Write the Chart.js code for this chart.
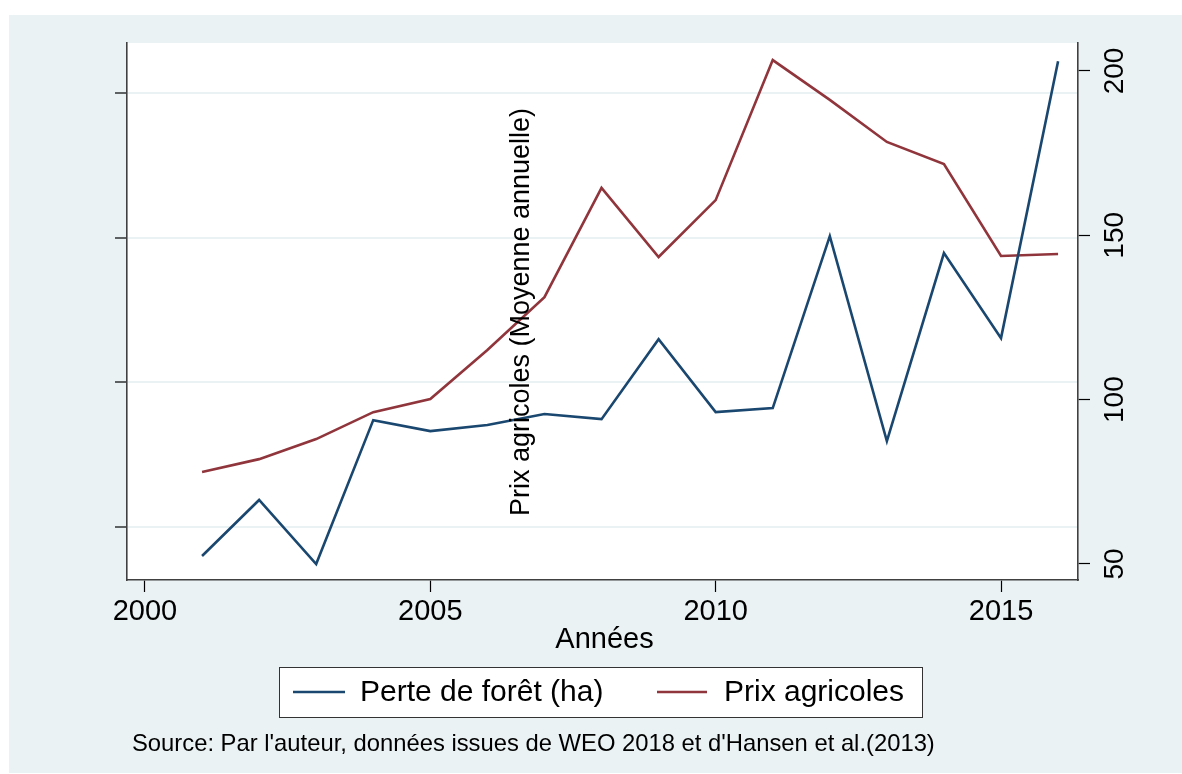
<!DOCTYPE html>
<html>
<head>
<meta charset="utf-8">
<script src="https://cdn.jsdelivr.net/npm/chart.js@4.4.0/dist/chart.umd.min.js"></script>
<style>
  body { margin: 0; background: #fff; }
  canvas { display: block; }
</style>
</head>
<body>
<canvas id="chart" width="1182" height="774"></canvas>
<script>
// donnees
const years = [2001, 2002, 2003, 2004, 2005, 2006, 2007, 2008, 2009, 2010, 2011, 2012, 2013, 2014, 2015, 2016];
// perte de foret (axe gauche, sans etiquettes)
const perteForet = [80.0, 118.7, 74.4, 173.9, 166.3, 170.5, 178.1, 174.6, 229.9, 179.5, 182.2, 301.1, 159.4, 289.4, 230.6, 422.0];
// prix agricoles, moyenne annuelle (axe droit)
const prixAgricoles = [78.0, 81.9, 88.0, 96.2, 100.2, 115.1, 131.2, 164.4, 143.4, 160.7, 203.3, 191.2, 178.4, 171.7, 143.7, 144.3];

const xTicks = [2000, 2005, 2010, 2015];
const leftTicks = [100, 200, 300, 400];
const rightTicks = [50, 100, 150, 200];

const seriesLabels = ['Perte de forêt (ha)', 'Prix agricoles'];
const seriesColors = ['#1a476f', '#90353b'];

const FONT = '"Liberation Sans", Arial, sans-serif';
const BG = '#eaf2f3';

const toPoints = (vals) => years.map((yr, i) => ({ x: yr, y: vals[i] }));
const setTicks = (list) => (scale) => { scale.ticks = list.map((v) => ({ value: v })); };

const stataPlugin = {
  id: 'stataLook',
  beforeDraw: (chart) => {
    const { ctx, chartArea } = chart;
    ctx.save();
    ctx.fillStyle = BG;
    ctx.fillRect(9, 15, chart.width - 9, 758);
    ctx.fillStyle = '#fff';
    ctx.fillRect(chartArea.left, chartArea.top, chartArea.right - chartArea.left, chartArea.bottom - chartArea.top);
    ctx.restore();
  },
  afterDraw: (chart) => {
    const { ctx, chartArea } = chart;
    const yRight = chart.scales.y1;
    ctx.save();
    ctx.fillStyle = '#000';

    // etiquettes de l'axe droit, tournees
    ctx.font = '28px ' + FONT;
    ctx.textAlign = 'center';
    ctx.textBaseline = 'middle';
    rightTicks.forEach((v) => {
      const py = yRight.getPixelForValue(v);
      ctx.save();
      ctx.translate(yRight.right - 67, py);
      ctx.rotate(-Math.PI / 2);
      ctx.fillText(String(v), 0, 0);
      ctx.restore();
    });

    // titre de l'axe y (place au milieu comme dans Stata)
    ctx.save();
    ctx.font = '27px ' + FONT;
    ctx.translate(522, 312);
    ctx.rotate(-Math.PI / 2);
    ctx.fillText('Prix agricoles (Moyenne annuelle)', 0, 0);
    ctx.restore();

    // titre de l'axe x
    ctx.font = '29px ' + FONT;
    ctx.fillText('Années', (chartArea.left + chartArea.right) / 2 + 2, 640);

    // legende
    const box = { x: 279, y: 667, w: 643, h: 50 };
    ctx.fillStyle = '#fff';
    ctx.fillRect(box.x, box.y, box.w, box.h);
    ctx.strokeStyle = '#333';
    ctx.lineWidth = 1;
    ctx.strokeRect(box.x + 0.5, box.y + 0.5, box.w, box.h);
    const items = [{ x0: 293, x1: 345, tx: 360 }, { x0: 657, x1: 707, tx: 724 }];
    chart.data.datasets.forEach((ds, i) => {
      const it = items[i];
      const ly = box.y + box.h / 2;
      ctx.strokeStyle = ds.borderColor;
      ctx.lineWidth = 2.6;
      ctx.beginPath();
      ctx.moveTo(it.x0, ly);
      ctx.lineTo(it.x1, ly);
      ctx.stroke();
      ctx.fillStyle = '#000';
      ctx.font = '30px ' + FONT;
      ctx.textAlign = 'left';
      ctx.fillText(ds.label, it.tx, ly + 1);
    });

    // source
    ctx.font = '23.8px ' + FONT;
    ctx.textAlign = 'left';
    ctx.fillText("Source: Par l'auteur, données issues de WEO 2018 et d'Hansen et al.(2013)", 132, 744);
    ctx.restore();
  },
};

new Chart(document.getElementById('chart'), {
  type: 'line',
  data: {
    datasets: [
      {
        label: seriesLabels[0],
        data: toPoints(perteForet),
        yAxisID: 'y',
        borderColor: seriesColors[0],
        borderWidth: 2.6,
        pointRadius: 0,
        tension: 0,
        fill: false,
      },
      {
        label: seriesLabels[1],
        data: toPoints(prixAgricoles),
        yAxisID: 'y1',
        borderColor: seriesColors[1],
        borderWidth: 2.6,
        pointRadius: 0,
        tension: 0,
        fill: false,
      },
    ],
  },
  plugins: [stataPlugin],
  options: {
    responsive: false,
    animation: false,
    devicePixelRatio: 1,
    layout: { padding: { top: 43, left: 0, right: 0, bottom: 0 } },
    plugins: {
      legend: { display: false },
      tooltip: { enabled: false },
    },
    scales: {
      x: {
        type: 'linear',
        position: 'bottom',
        min: 1999.685,
        max: 2016.349,
        afterBuildTicks: setTicks(xTicks),
        afterFit: (scale) => { scale.height = 194; },
        grid: { drawOnChartArea: false, tickLength: 12, tickColor: '#000', tickWidth: 1.2 },
        border: { display: true, color: '#404040', width: 1.6 },
        ticks: {
          padding: 3,
          color: '#000',
          font: { family: FONT, size: 29 },
          maxRotation: 0,
          callback: (v) => String(v),
        },
      },
      y: {
        type: 'linear',
        position: 'left',
        min: 63.4,
        max: 434.6,
        afterBuildTicks: setTicks(leftTicks),
        afterFit: (scale) => { scale.width = 127; },
        grid: { color: BG, lineWidth: 2, tickLength: 12, tickColor: '#000', tickWidth: 1.2 },
        border: { display: true, color: '#404040', width: 1.6 },
        ticks: { display: false },
      },
      y1: {
        type: 'linear',
        position: 'right',
        min: 45.13,
        max: 208.5,
        afterBuildTicks: setTicks(rightTicks),
        afterFit: (scale) => { scale.width = 104; },
        grid: { drawOnChartArea: false, tickLength: 12, tickColor: '#000', tickWidth: 1.2 },
        border: { display: true, color: '#404040', width: 1.6 },
        ticks: { display: false },
      },
    },
  },
});
</script>
</body>
</html>
